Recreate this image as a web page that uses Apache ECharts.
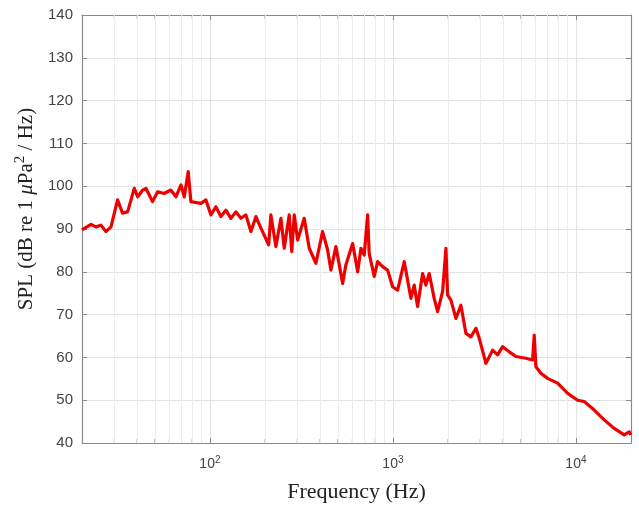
<!DOCTYPE html>
<html>
<head>
<meta charset="utf-8">
<title>SPL spectrum</title>
<script src="https://cdn.jsdelivr.net/npm/echarts@6/dist/echarts.min.js"></script>
<style>
	html, body { margin: 0; padding: 0; background: #fff; }
	#chart { width: 639px; height: 512px; }
</style>
</head>
<body>
<div id="chart"></div>
<script>
// 频率 (Hz)
var freqs = [20, 22.4, 23.8, 25.4, 27.0, 28.8, 31.3, 33.3, 35.5, 38.6, 40.3, 42.9, 44.7, 48.6, 51.8, 56.2,
	61.2, 65.2, 69.5, 72.4, 76.1, 78.7, 80.4, 89.3, 95.1, 101.3, 107.8, 114.8, 122.3, 130.2, 138.7,
	147.7, 157.3, 167.5, 178.4, 190, 209.4, 215.4, 229.4, 244.4, 254.7, 271.2, 280, 289, 301.6, 327.5,
	348.9, 379.6, 412.8, 439.7, 458.3, 488.2, 531.1, 553, 602.6, 641.8, 668.8, 697, 727.5, 741.8,
	790.6, 824.8, 878.7, 935.9, 996, 1061, 1153, 1254, 1307, 1364, 1453, 1514, 1579, 1681, 1755,
	1869, 1949, 1990, 2075, 2210, 2353, 2506, 2669, 2843, 2963, 3223, 3507, 3735, 3975, 4323,
	4699, 5330, 5800, 5918, 6045, 6436, 7000, 7943, 9010, 10220, 11100, 12590, 14280, 16200,
	18370, 19550, 20000];
// 声压级 (dB)
var spl = [89.8, 91.1, 90.5, 90.9, 89.4, 90.5, 96.8, 93.7, 94.0, 99.5, 97.5, 99.1, 99.5, 96.4, 98.7, 98.3,
	99.1, 97.5, 100.3, 97.5, 103.4, 96.4, 96.4, 96.0, 96.8, 93.3, 95.2, 92.9, 94.4, 92.5, 94.0,
	92.5, 93.3, 89.4, 92.9, 90.2, 86.3, 93.3, 85.9, 92.5, 85.5, 93.3, 84.7, 93.3, 87.4, 92.5,
	85.5, 82.0, 89.4, 85.1, 80.4, 85.9, 77.3, 81.6, 86.6, 80.0, 85.5, 83.9, 93.3, 84.3,
	78.9, 82.4, 81.2, 80.4, 76.5, 75.7, 82.4, 73.8, 76.9, 71.9, 79.6, 76.9, 79.6, 73.8, 70.7,
	75.4, 85.5, 74.6, 73.4, 69.1, 72.2, 65.6, 64.8, 66.8, 64.5, 58.6, 61.7, 60.6, 62.5, 61.3,
	60.2, 59.8, 59.4, 65.2, 57.8, 56.3, 55.1, 54.0, 51.6, 50.0, 49.7, 47.7, 45.4, 43.4,
	41.9, 42.6, 41.9];
// 次刻度
var minorFreqs = [30, 40, 50, 60, 70, 80, 90, 200, 300, 400, 500, 600, 700, 800, 900,
	2000, 3000, 4000, 5000, 6000, 7000, 8000, 9000];
var xMin = 20, xMax = 20000;
var yMin = 40, yMax = 140, yStep = 10;

window.onload = function() {
	drawChart();
};

function drawChart() {
	var myChart = echarts.init(document.getElementById('chart'));
	var lineData = freqs.map(function(f, i) { return [f, spl[i]]; });
	var tickBottom = minorFreqs.map(function(f) { return [f, yMin]; });
	var tickTop = minorFreqs.map(function(f) { return [f, yMax]; });
	var axisGray = '#8a8a8a';
	var labelGray = '#444';

	var logAxis = {
		type: 'log',
		logBase: 10,
		min: xMin,
		max: xMax,
		axisLine: { show: true, onZero: false, lineStyle: { color: axisGray, width: 1.2 } },
		axisTick: { show: true, inside: true, length: 5, lineStyle: { color: axisGray } },
		splitLine: { show: true, lineStyle: { color: '#e2e2e2', width: 1 } }
	};

	var option = {
		animation: false,
		grid: { left: 82, right: 8, top: 15, bottom: 69, containLabel: false },
		xAxis: [
			Object.assign({}, logAxis, {
				position: 'bottom',
				name: 'Frequency (Hz)',
				nameLocation: 'middle',
				nameGap: 38,
				nameTextStyle: { fontFamily: 'Liberation Serif', fontSize: 22, color: '#222' },
				axisLabel: {
					margin: 12,
					fontFamily: 'Liberation Sans',
					fontSize: 14,
					color: labelGray,
					formatter: function(v) {
						var e = Math.log10(v);
						if (Math.abs(e - Math.round(e)) > 1e-6) return '';
						return '{b|10}{s|' + Math.round(e) + '}';
					},
					rich: {
						b: { fontFamily: 'Liberation Sans', fontSize: 14, color: labelGray },
						s: { fontFamily: 'Liberation Sans', fontSize: 10, color: labelGray, padding: [0, 0, 9, 0] }
					}
				}
			}),
			Object.assign({}, logAxis, {
				position: 'top',
				axisLabel: { show: false },
				splitLine: { show: false }
			})
		],
		yAxis: [{
			type: 'value',
			min: yMin,
			max: yMax,
			interval: yStep,
			position: 'left',
			name: '{a|SPL (dB re 1 }{i|μ}{a|Pa}{s|2}{a| / Hz)}',
			nameLocation: 'middle',
			nameGap: 33,
			nameRotate: 90,
			nameTextStyle: {
				padding: [0, 0, 0, 40],
				rich: {
					a: { fontFamily: 'Liberation Serif', fontSize: 21, color: '#222' },
					i: { fontFamily: 'Liberation Serif', fontStyle: 'italic', fontSize: 21, color: '#222' },
					s: { fontFamily: 'Liberation Serif', fontSize: 15, color: '#222', padding: [0, 0, 14, 0] }
				}
			},
			axisLine: { show: true, onZero: false, lineStyle: { color: axisGray, width: 1.2 } },
			axisTick: { show: true, inside: true, length: 5, lineStyle: { color: axisGray } },
			axisLabel: { margin: 9, fontFamily: 'Liberation Sans', fontSize: 15, color: labelGray },
			splitLine: { show: true, lineStyle: { color: '#e2e2e2', width: 1 } }
		}, {
			type: 'value',
			min: yMin,
			max: yMax,
			interval: yStep,
			position: 'right',
			axisLine: { show: true, onZero: false, lineStyle: { color: axisGray, width: 1.2 } },
			axisTick: { show: true, inside: true, length: 5, lineStyle: { color: axisGray } },
			axisLabel: { show: false },
			splitLine: { show: false }
		}],
		series: [{
			// 次网格线 + 下方次刻度
			type: 'scatter',
			xAxisIndex: 0,
			yAxisIndex: 0,
			silent: true,
			clip: false,
			symbol: 'rect',
			symbolSize: [1, 4],
			symbolOffset: [0, -2],
			itemStyle: { color: axisGray },
			data: tickBottom,
			z: 1,
			markLine: {
				silent: true,
				symbol: 'none',
				label: { show: false },
				lineStyle: { color: '#ececec', width: 1, type: 'solid' },
				data: minorFreqs.map(function(f) { return { xAxis: f }; })
			}
		}, {
			// 上方次刻度
			type: 'scatter',
			xAxisIndex: 0,
			yAxisIndex: 0,
			silent: true,
			clip: false,
			symbol: 'rect',
			symbolSize: [1, 4],
			symbolOffset: [0, 2],
			itemStyle: { color: axisGray },
			data: tickTop,
			z: 1
		}, {
			name: 'SPL',
			type: 'line',
			xAxisIndex: 0,
			yAxisIndex: 0,
			showSymbol: false,
			symbol: 'none',
			lineStyle: { color: '#ee0000', width: 3.2, join: 'round' },
			data: lineData,
			z: 5
		}]
	};
	// 使用刚指定的配置项和数据显示图表。
	myChart.setOption(option);
}
</script>
</body>
</html>
